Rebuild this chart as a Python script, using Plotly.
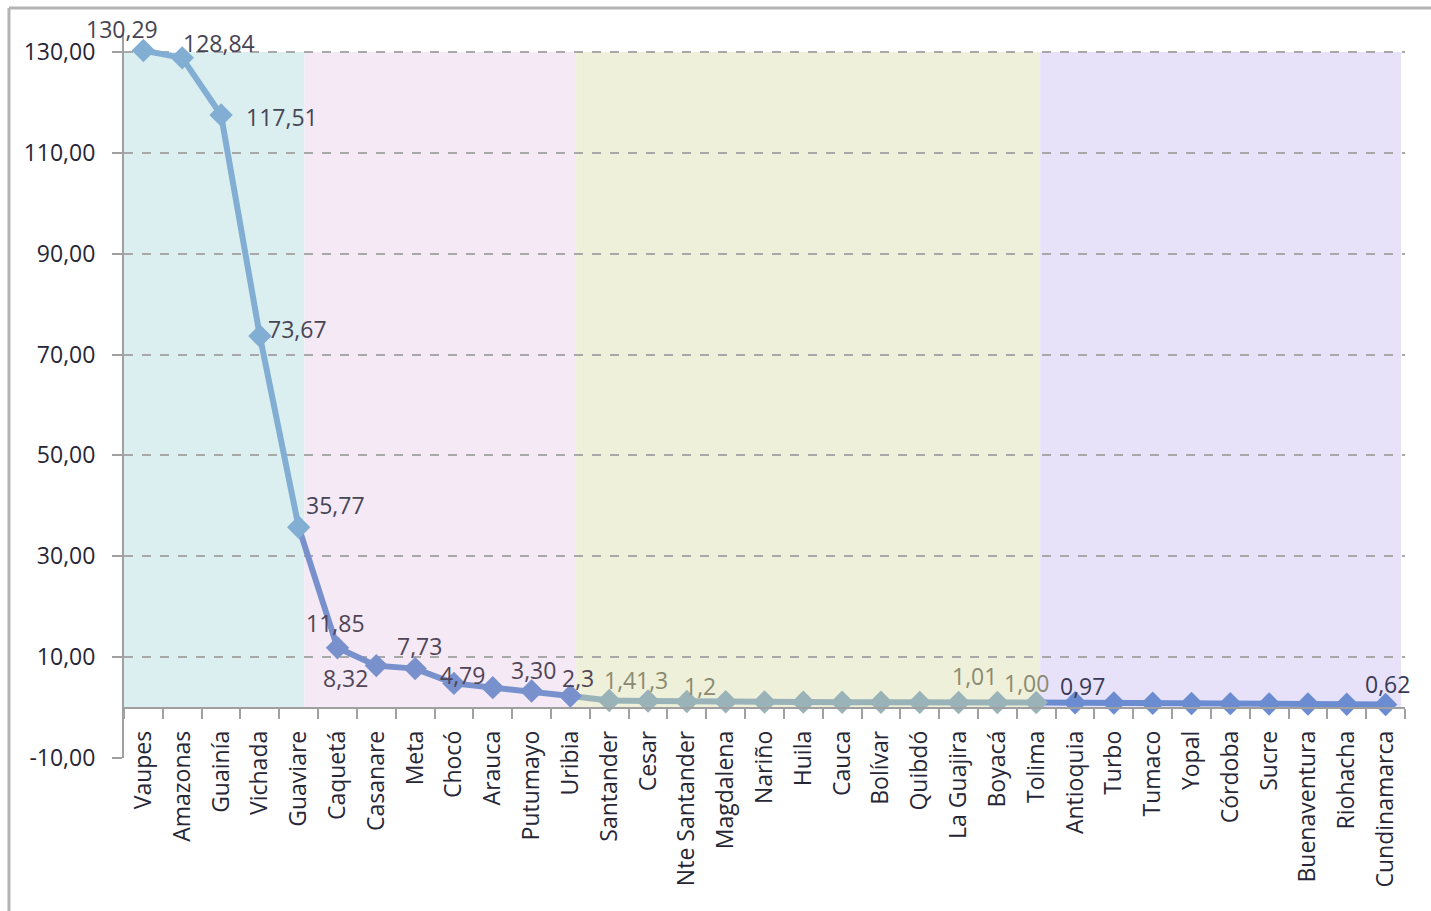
import plotly.graph_objects as go

# ---------------- data ----------------
categories = ["Vaupes", "Amazonas", "Guainía", "Vichada", "Guaviare", "Caquetá", "Casanare",
              "Meta", "Chocó", "Arauca", "Putumayo", "Uribia", "Santander", "Cesar",
              "Nte Santander", "Magdalena", "Nariño", "Huila", "Cauca", "Bolívar", "Quibdó",
              "La Guajira", "Boyacá", "Tolima", "Antioquia", "Turbo", "Tumaco", "Yopal",
              "Córdoba", "Sucre", "Buenaventura", "Riohacha", "Cundinamarca"]
values = [130.29, 128.84, 117.51, 73.67, 35.77, 11.85, 8.32, 7.73, 4.79, 3.95, 3.30, 2.30,
          1.40, 1.30, 1.20, 1.15, 1.10, 1.08, 1.06, 1.05, 1.03, 1.02, 1.01, 1.00, 0.97,
          0.90, 0.85, 0.82, 0.78, 0.72, 0.70, 0.66, 0.62]
labels = ["130,29", "128,84", "117,51", "73,67", "35,77", "11,85", "8,32", "7,73", "4,79", "",
          "3,30", "2,3", "1,4", "1,3", "1,2", "", "", "", "", "", "", "", "1,01", "1,00",
          "0,97", "", "", "", "", "", "", "", "0,62"]
y_ticks = [-10, 10, 30, 50, 70, 90, 110, 130]
# group ranges (first index, last index)
groups = [(0, 4), (4, 11), (11, 23), (23, 32)]

# ---------------- style ----------------
line_colors = ["#82AED3", "#7891CC", "#99B3B9", "#6C8CD1"]
fill_colors = ["#DCEFF0", "#F5E9F5", "#EEF0D9", "#E7E2FA"]
label_colors = ["#454555", "#4F4557", "#8A8A72", "#3A3A55"]
bounds = [-0.5, 4.15, 11.15, 23.1, 32.4]
label_offsets = {0: (-21, 22), 1: (37, 15), 2: (61, -2), 3: (38, 7), 4: (37, 22),
                 5: (-2, 25), 6: (-31, -12), 7: (4, 23), 8: (9, 8), 10: (2, 21),
                 11: (8, 18), 12: (11, 21), 13: (4, 21), 14: (13, 16), 22: (-23, 26),
                 23: (-10, 20), 24: (7, 17), 32: (2, 20)}

FONT = "Open Sans"
FS = 23
n = len(categories)

def group_of(i):
    if i <= 4:
        return 0
    if i <= 11:
        return 1
    if i <= 23:
        return 2
    return 3

fig = go.Figure()
for g, (a, b) in enumerate(groups):
    fig.add_trace(go.Scatter(x=categories[a:b + 1], y=values[a:b + 1], mode="lines",
                             line=dict(color=line_colors[g], width=6),
                             hoverinfo="skip", showlegend=False))
fig.add_trace(go.Scatter(x=categories, y=values, mode="markers",
                         marker=dict(symbol="diamond", size=18,
                                     color=[line_colors[group_of(i)] for i in range(n)],
                                     line=dict(width=0)),
                         showlegend=False))

shapes = []
for g in range(4):
    shapes.append(dict(type="rect", xref="x", yref="y", x0=bounds[g], x1=bounds[g + 1],
                       y0=0, y1=130, fillcolor=fill_colors[g], line=dict(width=0),
                       layer="below"))
# outer chart frame (left & top edges)
shapes.append(dict(type="line", xref="paper", yref="paper", x0=-0.0898, x1=-0.0898,
                   y0=1.0345, y1=-0.3, line=dict(color="#B4B4B4", width=3)))
shapes.append(dict(type="line", xref="paper", yref="paper", x0=-0.0898, x1=1.1,
                   y0=1.0345, y1=1.0345, line=dict(color="#B4B4B4", width=3)))

annotations = []
for i, t in enumerate(labels):
    if not t:
        continue
    dx, dy = label_offsets.get(i, (0, 18))
    annotations.append(dict(x=categories[i], y=values[i], text=t, showarrow=False,
                            xshift=dx, yshift=dy, xanchor="center", yanchor="middle",
                            font=dict(family=FONT, size=FS, color=label_colors[group_of(i)])))

ymin, ymax = -10, 133.77
fig.update_layout(
    width=1431, height=911,
    margin=dict(l=124, r=26, t=33, b=153),
    paper_bgcolor="white", plot_bgcolor="white",
    font=dict(family=FONT, size=FS, color="#262636"),
    shapes=shapes, annotations=annotations, showlegend=False,
    xaxis=dict(type="category", categoryorder="array", categoryarray=categories,
               range=[-0.5, n - 0.5], anchor="free",
               position=(0 - ymin) / (ymax - ymin),
               showline=True, linecolor="#A0A0A0", linewidth=2,
               ticks="outside", tickson="boundaries", ticklen=10, tickcolor="#A0A0A0",
               tickwidth=1.5, tickangle=-90, showgrid=False, ticklabelstandoff=13,
               tickfont=dict(family=FONT, size=FS, color="#262636")),
    yaxis=dict(range=[ymin, ymax], tickvals=y_ticks,
               ticktext=[f"{v:.2f}".replace(".", ",") for v in y_ticks],
               showgrid=True, gridcolor="#A8A8A8", gridwidth=1.5, griddash="dash",
               zeroline=False, showline=True, linecolor="#A0A0A0", linewidth=2,
               ticks="outside", ticklen=10, tickcolor="#A0A0A0", tickwidth=1.5,
               ticklabelstandoff=12,
               tickfont=dict(family=FONT, size=FS, color="#262636")),
)

fig.write_html("out.html", config={"displayModeBar": False},
               post_script="document.body.style.margin='0';")
